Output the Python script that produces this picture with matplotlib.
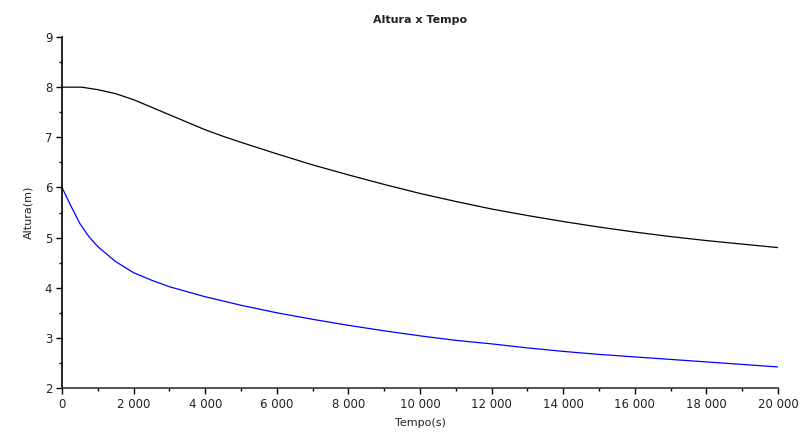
import numpy as np
import matplotlib.pyplot as plt
from matplotlib.ticker import MultipleLocator, FuncFormatter

plt.rcParams.update({
    "font.family": "DejaVu Sans",
    "font.size": 8,
})

# tempo (s) e altura (m)
t_preto = [0, 550, 1000, 1500, 2000, 2500, 3000, 3500, 4000, 4500, 5000, 6000,
           7000, 8000, 9000, 10000, 11000, 12000, 13000, 14000, 15000, 16000,
           17000, 18000, 19000, 20000]
h_preto = [8.0, 8.0, 7.95, 7.87, 7.75, 7.6, 7.45, 7.3, 7.15, 7.02, 6.9, 6.67,
           6.45, 6.25, 6.06, 5.88, 5.72, 5.57, 5.44, 5.32, 5.21, 5.11,
           5.02, 4.94, 4.87, 4.8]

t_azul = [0, 250, 500, 750, 1000, 1500, 2000, 2500, 3000, 4000, 5000,
          6000, 7000, 8000, 9000, 10000, 11000, 12000, 13000, 14000, 15000,
          16000, 17000, 18000, 19000, 20000]
h_azul = [6.0, 5.63, 5.28, 5.02, 4.82, 4.52, 4.3, 4.15, 4.02, 3.82, 3.65,
          3.5, 3.37, 3.25, 3.14, 3.04, 2.95, 2.88, 2.8, 2.73, 2.67,
          2.62, 2.57, 2.52, 2.47, 2.42]

fig = plt.figure(figsize=(8.06, 4.34), dpi=100)
ax = fig.add_axes([0.0769, 0.106, 0.8884, 0.8087])

ax.plot(t_preto, h_preto, color='black', linewidth=0.9)
ax.plot(t_azul, h_azul, color=(0, 0, 1), linewidth=0.9)

ax.set_xlim(0, 20000)
ax.set_ylim(2, 9)
ax.spines['top'].set_visible(False)
ax.spines['right'].set_visible(False)
ax.spines['left'].set_linewidth(1.2)
ax.spines['bottom'].set_linewidth(1.2)
ax.spines['bottom'].set_color('#333333')

ax.xaxis.set_major_locator(MultipleLocator(2000))
ax.xaxis.set_minor_locator(MultipleLocator(1000))
ax.yaxis.set_major_locator(MultipleLocator(1))
ax.yaxis.set_minor_locator(MultipleLocator(0.5))
ax.xaxis.set_major_formatter(FuncFormatter(lambda v, p: f"{int(v):,}".replace(",", " ")))
ax.tick_params(which='major', length=4, width=1, direction='out', labelsize=8.5,
               labelcolor='#222222', pad=3)
ax.tick_params(which='minor', length=2.5, width=1, direction='out')

ax.set_title('Altura x Tempo', fontsize=8, color='#222222', fontweight='semibold', pad=10)
ax.set_xlabel('Tempo(s)', fontsize=8, color='#222222', labelpad=5)
ax.set_ylabel('Altura(m)', fontsize=8, color='#222222', labelpad=8)

fig.savefig('out.png', dpi=100)
